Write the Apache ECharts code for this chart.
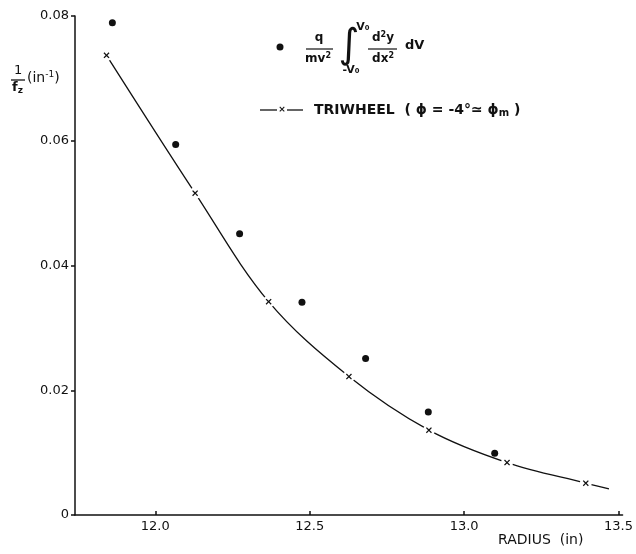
<!DOCTYPE html>
<html>
<head>
<meta charset="utf-8">
<script src="https://cdn.jsdelivr.net/npm/echarts@6/dist/echarts.min.js"></script>
<style>
  html, body { margin: 0; padding: 0; background: #fff; }
  #chart { width: 636px; height: 554px; }
</style>
</head>
<body>
<div id="chart"></div>
<script>
// measured points (dots) : radius (in), 1/fz (in^-1)
const dotRadius = [11.861, 12.066, 12.273, 12.475, 12.681, 12.884, 13.099];
const dotValue = [0.0789, 0.0594, 0.0451, 0.0341, 0.0251, 0.0165, 0.0099];

// triwheel points (x markers)
const triRadius = [11.842, 12.129, 12.367, 12.627, 12.886, 13.139, 13.394];
const triValue = [0.0737, 0.0516, 0.0342, 0.0222, 0.0136, 0.0084, 0.0051];
// the drawn curve carries on a little past the last marker
const curveEnd = [13.469, 0.0042];

const xTicks = [12.0, 12.5, 13.0, 13.5];
const yTicks = [0, 0.02, 0.04, 0.06, 0.08];

const font = 'DejaVu Sans';
const ink = '#111';
const crossPath = 'path://M0,1.5L1.5,0L5,3.5L8.5,0L10,1.5L6.5,5L10,8.5L8.5,10L5,6.5L1.5,10L0,8.5L3.5,5Z';

const triPairs = triRadius.map((r, i) => [r, triValue[i]]);
const dotPairs = dotRadius.map((r, i) => [r, dotValue[i]]);

const chart = echarts.init(document.getElementById('chart'));

const option = {
    backgroundColor: '#fff',
    animation: false,
    grid: { left: 75, right: 11, top: 16, bottom: 39 },
    xAxis: {
        type: 'value',
        min: 11.74,
        max: 13.513,
        axisLine: { lineStyle: { color: ink, width: 1.5 } },
        axisTick: { inside: true, length: 4, customValues: xTicks, lineStyle: { color: ink, width: 1.5 } },
        axisLabel: {
            customValues: xTicks,
            formatter: v => v.toFixed(1),
            color: ink, fontFamily: font, fontSize: 13, margin: 5
        },
        splitLine: { show: false }
    },
    yAxis: {
        type: 'value',
        min: yTicks[0],
        max: yTicks[yTicks.length - 1],
        interval: 0.02,
        axisLine: { show: true, lineStyle: { color: ink, width: 1.5 } },
        axisTick: { show: true, inside: false, length: 4, lineStyle: { color: ink, width: 1.5 } },
        axisLabel: {
            formatter: v => v === 0 ? '0' : v.toFixed(2),
            color: ink, fontFamily: font, fontSize: 13, margin: 6
        },
        splitLine: { show: false }
    },
    series: [
        {
            name: 'curve',
            type: 'line',
            data: triPairs.concat([curveEnd]),
            smooth: 0.35,
            symbol: 'none',
            lineStyle: { color: ink, width: 1.3 },
            z: 1
        },
        {
            // white patches that open the gaps in the curve around each marker
            name: 'gaps',
            type: 'scatter',
            data: triPairs,
            symbol: 'circle',
            symbolSize: 12,
            itemStyle: { color: '#fff', opacity: 1 },
            silent: true,
            z: 2
        },
        {
            name: 'TRIWHEEL',
            type: 'scatter',
            data: triPairs,
            symbol: crossPath,
            symbolSize: 6,
            itemStyle: { color: ink, opacity: 1 },
            z: 3
        },
        {
            name: 'measured',
            type: 'scatter',
            data: dotPairs,
            symbol: 'circle',
            symbolSize: 7,
            itemStyle: { color: ink, opacity: 1 },
            z: 4
        }
    ],
    graphic: [
        // y axis title: 1/fz (in^-1)
        { type: 'text', left: 14, top: 64, style: { text: '1', font: '13px ' + font, fill: ink } },
        { type: 'line', shape: { x1: 11, y1: 80, x2: 25, y2: 80 }, style: { stroke: ink, lineWidth: 1.3 } },
        { type: 'text', left: 12, top: 81, style: {
            text: '{f|f}{z|z}',
            rich: { f: { font: 'bold 13px ' + font, fill: ink }, z: { font: 'bold 9px ' + font, fill: ink, padding: [6, 0, 0, 0] } }
        } },
        { type: 'text', left: 27, top: 70, style: {
            text: '(in{s|-1})',
            font: '14px ' + font, fill: ink,
            rich: { s: { font: '9px ' + font, fill: ink, padding: [0, 0, 7, 0] } }
        } },
        // x axis title
        { type: 'text', left: 498, top: 533, style: { text: 'RADIUS  (in)', font: '14px ' + font, fill: ink } },

        // legend: measured points and the formula
        { type: 'circle', shape: { cx: 280, cy: 47, r: 3.5 }, style: { fill: ink } },
        { type: 'text', x: 319, y: 38, style: { text: 'q', font: 'bold 12px ' + font, fill: ink, align: 'center', verticalAlign: 'middle' } },
        { type: 'line', shape: { x1: 306, y1: 49, x2: 333, y2: 49 }, style: { stroke: ink, lineWidth: 1.2 } },
        { type: 'text', x: 318, y: 59, style: { text: 'mv{s|2}', font: 'bold 12px ' + font, fill: ink, align: 'center', verticalAlign: 'middle',
            rich: { s: { font: 'bold 8px ' + font, fill: ink, padding: [0, 0, 6, 0] } } } },
        { type: 'text', x: 349, y: 47, style: { text: '\u222B', font: '40px ' + font, fill: ink, align: 'center', verticalAlign: 'middle' } },
        { type: 'text', x: 363, y: 27, style: { text: 'V\u2080', font: 'bold 11px ' + font, fill: ink, align: 'center', verticalAlign: 'middle' } },
        { type: 'text', x: 351, y: 70, style: { text: '-V\u2080', font: 'bold 11px ' + font, fill: ink, align: 'center', verticalAlign: 'middle' } },
        { type: 'text', x: 383, y: 38, style: { text: 'd{s|2}y', font: 'bold 12px ' + font, fill: ink, align: 'center', verticalAlign: 'middle',
            rich: { s: { font: 'bold 8px ' + font, fill: ink, padding: [0, 0, 6, 0] } } } },
        { type: 'line', shape: { x1: 368, y1: 49, x2: 397, y2: 49 }, style: { stroke: ink, lineWidth: 1.2 } },
        { type: 'text', x: 383, y: 59, style: { text: 'dx{s|2}', font: 'bold 12px ' + font, fill: ink, align: 'center', verticalAlign: 'middle',
            rich: { s: { font: 'bold 8px ' + font, fill: ink, padding: [0, 0, 6, 0] } } } },
        { type: 'text', x: 405, y: 46, style: { text: 'dV', font: 'bold 13px ' + font, fill: ink, verticalAlign: 'middle' } },

        // legend: triwheel
        { type: 'line', shape: { x1: 260, y1: 110, x2: 277, y2: 110 }, style: { stroke: ink, lineWidth: 1.3 } },
        { type: 'line', shape: { x1: 287, y1: 110, x2: 303, y2: 110 }, style: { stroke: ink, lineWidth: 1.3 } },
        { type: 'text', x: 282, y: 110, style: { text: '\u00D7', font: 'bold 9px ' + font, fill: ink, align: 'center', verticalAlign: 'middle' } },
        { type: 'text', x: 314, y: 110, style: {
            text: 'TRIWHEEL  ( \u03D5 = -4\u00B0\u2243 \u03D5{m|m} )',
            font: 'bold 14px ' + font, fill: ink, verticalAlign: 'middle',
            rich: { m: { font: 'bold 10px ' + font, fill: ink, padding: [6, 0, 0, 0] } }
        } }
    ]
};

chart.setOption(option);
</script>
</body>
</html>
